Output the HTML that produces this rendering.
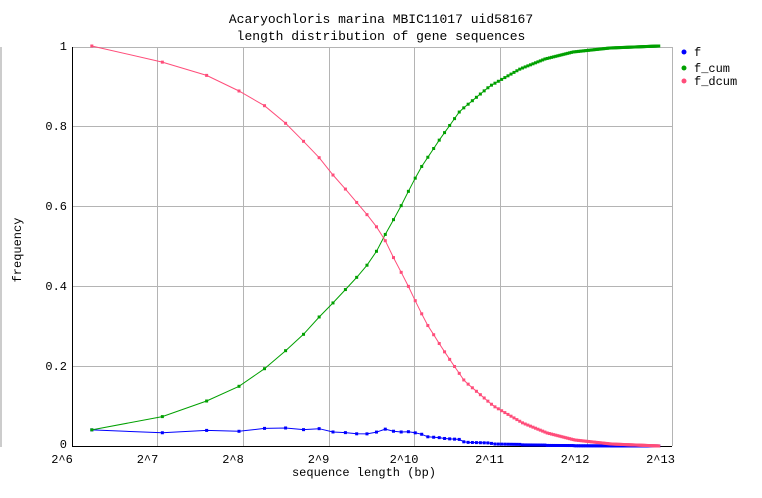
<!DOCTYPE html>
<html><head><meta charset="utf-8"><style>
html,body{margin:0;padding:0;background:#fff;}
svg{display:block;font-family:"Liberation Mono","DejaVu Sans Mono",monospace;}
</style></head><body>
<svg id="s" width="762" height="498" xmlns="http://www.w3.org/2000/svg">
<line x1="1" y1="47" x2="1" y2="447" stroke="#999"/>
<text x="381" y="23" font-size="13" text-anchor="middle">Acaryochloris marina MBIC11017 uid58167</text>
<text x="381" y="40" font-size="13" text-anchor="middle">length distribution of gene sequences</text>
<g id="grid" stroke="#b4b4b4" stroke-width="1"></g>
<line x1="72.5" y1="47" x2="72.5" y2="446.5" stroke="#000"/>
<line x1="72" y1="446.5" x2="672" y2="446.5" stroke="#000"/>
<g id="lab" font-size="12"></g>
<text x="364" y="476" font-size="12" text-anchor="middle">sequence length (bp)</text>
<text transform="translate(21,250) rotate(-90)" font-size="12" text-anchor="middle">frequency</text>
<g font-size="12">
<circle cx="684" cy="52" r="2.5" fill="#0000ff"/><text x="694" y="56">f</text>
<circle cx="684" cy="68" r="2.5" fill="#00a000"/><text x="694" y="72">f_cum</text>
<circle cx="684" cy="81" r="2.5" fill="#ff4d7a"/><text x="694" y="85">f_dcum</text>
</g>
<g id="d"></g>
</svg>
<script>
var NS="http://www.w3.org/2000/svg";
function el(p,t,a){var e=document.createElementNS(NS,t);for(var k in a)e.setAttribute(k,a[k]);p.appendChild(e);return e;}
var g=document.getElementById('grid'),lab=document.getElementById('lab');
var L=70,R=658,T=47,B=446,W=(R-L)/7;
var gx=[157,243,329,414,500,587,672];
for(var i=0;i<gx.length;i++){el(g,'line',{x1:gx[i]+0.5,y1:T,x2:gx[i]+0.5,y2:B});}
el(g,'line',{x1:72,y1:T+0.5,x2:672,y2:T+0.5});
for(var j=1;j<=4;j++){var y=Math.round(B-j*80)+0.5;el(g,'line',{x1:72,y1:y,x2:672,y2:y});}
for(var i=0;i<=7;i++){var t=el(lab,'text',{x:62+i*85.5,y:463,'text-anchor':'middle'});t.textContent='2^'+(6+i);}
var yl=['0','0.2','0.4','0.6','0.8','1'];
for(var j=0;j<=5;j++){var t=el(lab,'text',{x:67,y:B-j*80+4-(j==0?2:0),'text-anchor':'end'});t.textContent=yl[j];}
var A=[[91,431],[155,420],[195,407],[230,392],[253,380],[272,363],[290,348],[306,333],[320,317],[332,305],[345,291],[357,278],[368,265],[378,250],[388,230],[398,213],[406,197],[420,170],[440,140],[460,112],[490,87],[520,70],[545,60],[573,53],[610,49],[659,47]];
function cumAt(px){if(px<=A[0][0])return (447-A[0][1])/400;for(var i=1;i<A.length;i++){if(px<=A[i][0]){var a=A[i-1],b=A[i],t=(px-a[0])/(b[0]-a[0]);return (447-(a[1]+t*(b[1]-a[1])))/400;}}return 1;}
function X(v){return 71+(Math.log2(v)-6)*W;}
var pts=[];for(var v=76;v<=8192;v+=60)pts.push(v);
var cum=[],f=[],dc=[],prev=0;
for(var i=0;i<pts.length;i++){var c=cumAt(X(pts[i]));if(c<prev)c=prev;if(i==pts.length-1)c=1;cum.push(c);f.push(c-prev);dc.push(1-prev);prev=c;}
var d=document.getElementById('d');
function series(vals,col){var s='';for(var i=0;i<pts.length;i++){s+=(i?'L':'M')+X(pts[i]).toFixed(1)+' '+(B-vals[i]*400).toFixed(1);}
el(d,'path',{d:s,fill:'none',stroke:col,'stroke-width':1});
for(var i=0;i<pts.length;i++)el(d,'rect',{x:X(pts[i])-1.5,y:B-vals[i]*400-1.5,width:3,height:3,fill:col});}
series(f,'#0000ff');series(cum,'#00a000');series(dc,'#ff4d7a');
</script>
</body></html>
